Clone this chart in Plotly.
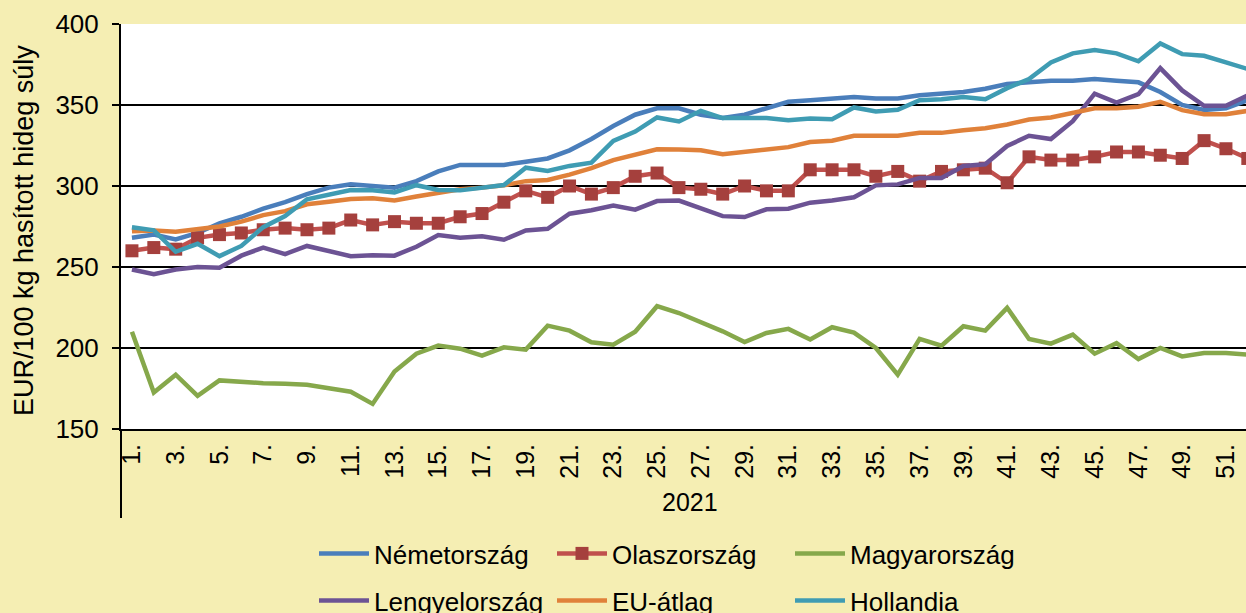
import plotly.graph_objects as go

weeks = list(range(1, 53))
tick_vals = list(range(1, 53, 2))
tick_text = [f"{w}." for w in tick_vals]
year_label = "2021"

nemet = [268, 270, 267, 271, 277, 281, 286, 290, 295, 299, 301, 300, 299, 303, 309, 313, 313, 313,
         315, 317, 322, 329, 337, 344, 348, 348, 344, 342, 344, 348, 352, 353, 354, 355, 354, 354,
         356, 357, 358, 360, 363, 364, 365, 365, 366, 365, 364, 358, 350, 347, 348, 353]
olasz = [260, 262, 261, 268, 270, 271, 273, 274, 273, 274, 279, 276, 278, 277, 277, 281, 283, 290,
         297, 293, 300, 295, 299, 306, 308, 299, 298, 295, 300, 297, 297, 310, 310, 310, 306, 309,
         303, 309, 310, 311, 302, 318, 316, 316, 318, 321, 321, 319, 317, 328, 323, 317]
magyar = [210, 172.5, 183.5, 170.5, 180, 179, 178.3, 178, 177.3, 175.2, 173, 165.5, 185.5, 196.5,
          201.5, 199.6, 195.3, 200.4, 199, 213.8, 210.7, 203.5, 202, 210, 225.8, 221.6, 216, 210.3,
          203.7, 209.3, 211.8, 205.2, 212.8, 209.5, 200, 183.5, 205.6, 201.4, 213.4, 210.7, 224.8,
          205.6, 202.7, 208.3, 196.5, 203, 193.2, 200, 194.8, 196.9, 196.9, 195.9]
lengyel = [248.5, 245.5, 248.5, 250, 249.5, 257, 262, 258, 263, 260, 256.7, 257.3, 257, 262.5,
           269.7, 268, 269, 266.8, 272.6, 273.6, 282.9, 285, 288, 285.4, 290.7, 291, 286, 281.4,
           280.8, 285.6, 286, 289.7, 291, 293, 300.4, 301, 305, 305, 312.4, 313.4, 324.7, 331, 329,
           340, 357, 351.5, 356.7, 372.8, 359, 349.5, 349.5, 356]
eu_atlag = [272, 272.6, 271.8, 273.6, 275, 278, 282, 284.5, 288.7, 290.3, 292, 292.4, 291, 293.5,
            296, 298, 299, 300.4, 303, 303.7, 307, 311, 316, 319, 322.7, 322.5, 322, 319.6, 321,
            322.7, 324, 327.2, 328, 331, 331, 331, 332.8, 332.8, 334.4, 335.7, 338, 341, 342.3,
            345.4, 348, 348, 348.9, 352, 346.8, 344.3, 344.3, 346.4]
holland = [274.6, 272.6, 259.4, 264.3, 256.7, 263, 274.6, 281.4, 291.8, 294.8, 297.5, 297.3, 296,
           300.5, 297.5, 297.3, 299, 300.6, 311.3, 309.3, 312.4, 314.4, 327.8, 333.6, 342.3, 339.8,
           346.4, 341.9, 341.9, 341.9, 340.6, 341.6, 341.2, 348.5, 346, 347, 353, 353.6, 355, 353.6,
           360.4, 366, 376.3, 381.9, 383.9, 381.9, 377, 388, 381.4, 380.4, 376.3, 372.2]

FONT = "Liberation Sans, Arial, sans-serif"
BG = "#f5eeb3"
W, H = 1246, 613
L, T, B = 121, 24, 184

fig = go.Figure()
series = [
    ("Németország", nemet, "#4a7ebb", "legend"),
    ("Olaszország", olasz, "#c0504d", "legend"),
    ("Magyarország", magyar, "#86a84b", "legend"),
    ("Lengyelország", lengyel, "#6c5394", "legend2"),
    ("EU-átlag", eu_atlag, "#e0813a", "legend2"),
    ("Hollandia", holland, "#3f9cb3", "legend2"),
]
for name, vals, color, lg in series:
    kw = dict(mode="lines")
    if name == "Olaszország":
        kw = dict(mode="lines+markers",
                  marker=dict(symbol="square", size=13, color="#a5403d",
                              line=dict(width=0)))
    fig.add_trace(go.Scatter(x=weeks, y=vals, name=name, legend=lg,
                             line=dict(color=color, width=4.5), **kw))

plot_w = W - L
week_px = 21.88
x_max = 0.5 + plot_w / week_px

legend_common = dict(orientation="h", xref="container", yref="container", x=314 / W,
                     xanchor="left", yanchor="top", entrywidth=173, entrywidthmode="pixels",
                     bgcolor="rgba(0,0,0,0)", font=dict(size=26), itemwidth=50)

fig.update_layout(
    width=W, height=H,
    margin=dict(l=L, r=0, t=T, b=B),
    paper_bgcolor=BG,
    plot_bgcolor="white",
    font=dict(family=FONT, size=26, color="black"),
    xaxis=dict(range=[0.5, x_max], tickmode="array", tickvals=tick_vals, ticktext=tick_text,
               tickangle=-90, showgrid=False, showline=True, linecolor="black", linewidth=2,
               ticks="", zeroline=False, tickfont=dict(size=25), ticklabelstandoff=3),
    yaxis=dict(range=[150, 400], dtick=50, showgrid=True, gridcolor="black", gridwidth=2,
               showline=True, linecolor="black", linewidth=2, ticks="outside", ticklen=7,
               tickwidth=2, tickcolor="black", zeroline=False, tickfont=dict(size=26),
               ticklabelstandoff=8),
    legend=dict(y=1 - 530 / H, **legend_common),
    legend2=dict(y=1 - 577 / H, **legend_common),
    showlegend=True,
)

plot_h = H - T - B
fig.add_shape(type="line", xref="paper", yref="paper", x0=0, x1=0, y0=0,
              y1=-(518 - (T + plot_h)) / plot_h, line=dict(color="black", width=2))

fig.add_annotation(text=year_label, xref="x", yref="paper", x=26.5,
                   y=-(502 - (T + plot_h)) / plot_h, showarrow=False,
                   font=dict(size=25), xanchor="center", yanchor="middle")
fig.add_annotation(text="EUR/100 kg hasított hideg súly", xref="paper", yref="paper",
                   x=-(L - 24) / plot_w, y=(T + plot_h - 231) / plot_h, textangle=-90,
                   showarrow=False, font=dict(size=27), xanchor="center", yanchor="middle")

fig.write_html(
    "out.html",
    config={"displayModeBar": False},
    post_script=(
        "document.documentElement.style.margin='0';"
        "document.body.style.margin='0';"
        "document.body.style.overflow='hidden';"
        f"document.body.style.background='{BG}';"
    ),
)
